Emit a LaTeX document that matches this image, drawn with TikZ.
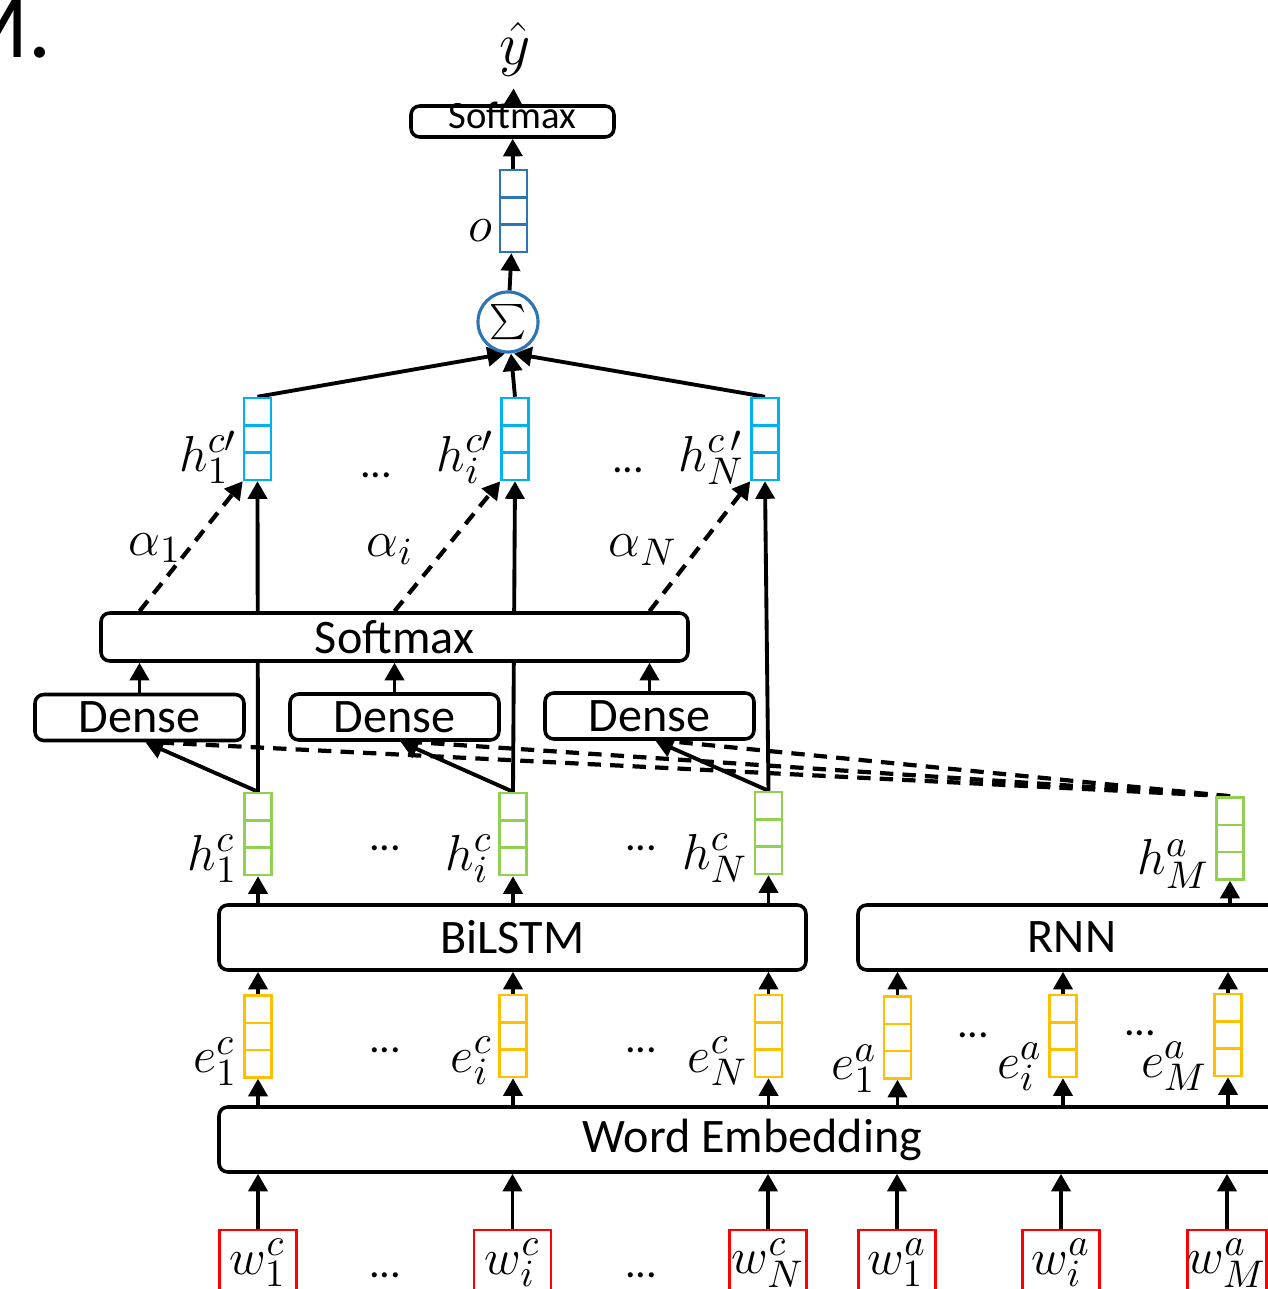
\documentclass[tikz,border=0pt]{standalone}
\usepackage[no-math]{fontspec}
\setmainfont{Carlito}
\usepackage{tikz}
\usetikzlibrary{arrows.meta, positioning, backgrounds, calc}
\DeclareMathSizes{14}{14}{11}{9}
\definecolor{sumblue}{RGB}{46,117,182}
\definecolor{attblue}{RGB}{0,176,240}
\definecolor{hidgreen}{RGB}{146,208,80}
\definecolor{embgold}{RGB}{255,192,0}
\definecolor{wordred}{RGB}{255,0,0}

\begin{document}
\begin{tikzpicture}[>={Triangle[width=5.4pt,length=5pt]},
  box/.style={draw, line width=1pt, rounded corners=2.5pt, fill=white,
              inner sep=0pt, font=\fontsize{13.7}{16}\selectfont},
  vec/.style={draw=#1, line width=0.7pt, fill=white, minimum width=0.27cm,
              minimum height=0.82cm, inner sep=0pt,
              path picture={\draw[#1, line width=0.7pt]
                ([yshift=-0.273cm]path picture bounding box.north west) --
                ([yshift=-0.273cm]path picture bounding box.north east)
                ([yshift=0.273cm]path picture bounding box.south west) --
                ([yshift=0.273cm]path picture bounding box.south east);}},
  word/.style={draw=wordred, line width=0.8pt, minimum width=0.77cm,
               minimum height=0.66cm, inner sep=0pt, font=\fontsize{14}{16}\selectfont},
  lbl/.style={anchor=base east, inner sep=1.5pt, font=\fontsize{14}{16}\selectfont},
  dots/.style={inner sep=0pt, font=\fontsize{12}{14}\selectfont},
  arr/.style={->, line width=1.1pt},
  att/.style={->, line width=1.2pt, dash pattern=on 3.8pt off 2.6pt},
  qry/.style={line width=1.2pt, dash pattern=on 3.8pt off 2.6pt},
]
\path[use as bounding box, clip] (0,0) rectangle (12.68,12.89);

% Caption remnant
\node[anchor=base west, inner sep=0pt, font=\fontsize{26}{30}\selectfont] (capt)
     at (-0.50,12.31) {M.};

% Output
\node[font=\fontsize{16}{18}\selectfont] (yhat) at (5.15,12.40) {$\hat{y}$};
\node[box, minimum width=2.03cm, minimum height=0.31cm, text height=0.19cm,
      text depth=0.04cm, font=\fontsize{11}{13}\selectfont] (smtop) at (5.125,11.675) {Softmax};
\node[vec=sumblue] (o) at (5.135,10.78) {};
\node[lbl] (olbl) at ([yshift=0.12cm]o.south west) {$o$};
\node[draw=sumblue, circle, line width=0.9pt, minimum size=0.6cm, inner sep=0pt,
      font=\fontsize{13}{15}\selectfont] (sum) at (5.08,9.67) {$\sum$};

% Attended context states
\node[vec=attblue] (hp1) at (2.575,8.50) {};
\node[vec=attblue] (hpi) at (5.15,8.50) {};
\node[vec=attblue] (hpN) at (7.65,8.50) {};
\node[lbl] (hp1lbl) at ([yshift=0.1cm]hp1.south west) {$h_1^{c\prime}$};
\node[lbl] (hpilbl) at ([yshift=0.1cm]hpi.south west) {$h_i^{c\prime}$};
\node[lbl] (hpNlbl) at ([yshift=0.1cm]hpN.south west) {$h_N^{c\,\prime}$};
\node[dots] (hpd1) at (3.76,8.14) {...};
\node[dots] (hpd2) at (6.28,8.19) {...};

% Attention weights
\node[font=\fontsize{14}{16}\selectfont] (al1) at (1.55,7.41) {$\alpha_1$};
\node[font=\fontsize{14}{16}\selectfont] (ali) at (3.90,7.39) {$\alpha_i$};
\node[font=\fontsize{14}{16}\selectfont] (alN) at (6.43,7.39) {$\alpha_N$};

% Scoring
\node[box, minimum width=5.87cm, minimum height=0.48cm] (smax) at (3.945,6.52) {Softmax};
\node[box, minimum width=2.09cm, minimum height=0.46cm] (dense1) at (1.395,5.715) {Dense};
\node[box, minimum width=2.09cm, minimum height=0.46cm] (dense2) at (3.945,5.72) {Dense};
\node[box, minimum width=2.09cm, minimum height=0.46cm] (dense3) at (6.495,5.73) {Dense};

% Hidden states
\node[vec=hidgreen] (hc1) at (2.58,4.55) {};
\node[vec=hidgreen] (hci) at (5.13,4.55) {};
\node[vec=hidgreen] (hcN) at (7.685,4.56) {};
\node[vec=hidgreen] (haM) at (12.30,4.505) {};
\node[lbl] (hc1lbl) at ([yshift=0.06cm]hc1.south west) {$h_1^c$};
\node[lbl] (hcilbl) at ([yshift=0.06cm]hci.south west) {$h_i^c$};
\node[lbl] (hcNlbl) at ([yshift=0.06cm]hcN.south west) {$h_N^c$};
\node[lbl] (haMlbl) at ([yshift=0.06cm]haM.south west) {$h_M^a$};
\node[dots] (hcd1) at (3.85,4.41) {...};
\node[dots] (hcd2) at (6.41,4.41) {...};

% Encoders
\node[box, minimum width=5.87cm, minimum height=0.65cm] (bilstm) at (5.125,3.515) {BiLSTM};
\node[box, minimum width=4.28cm, minimum height=0.65cm] (rnn) at (10.72,3.515) {RNN};

% Embeddings
\node[vec=embgold] (e1c) at (2.58,2.525) {};
\node[vec=embgold] (eic) at (5.13,2.53) {};
\node[vec=embgold] (eNc) at (7.685,2.53) {};
\node[vec=embgold] (e1a) at (8.975,2.515) {};
\node[vec=embgold] (eia) at (10.63,2.53) {};
\node[vec=embgold] (eMa) at (12.28,2.54) {};
\node[lbl] (e1clbl) at ([yshift=0.06cm]e1c.south west) {$e_1^c$};
\node[lbl] (eiclbl) at ([yshift=0.06cm]eic.south west) {$e_i^c$};
\node[lbl] (eNclbl) at ([yshift=0.06cm]eNc.south west) {$e_N^c$};
\node[lbl] (e1albl) at (e1a.south west) {$e_1^a$};
\node[lbl] (eialbl) at (eia.south west) {$e_i^a$};
\node[lbl] (eMalbl) at (eMa.south west) {$e_M^a$};
\node[dots] (ed1) at (3.85,2.39) {...};
\node[dots] (ed2) at (6.41,2.39) {...};
\node[dots] (ed3) at (9.73,2.54) {...};
\node[dots] (ed4) at (11.40,2.56) {...};

\node[box, minimum width=10.67cm, minimum height=0.65cm] (we) at (7.525,1.495) {Word Embedding};

% Input words
\node[word] (w1c) at (2.58,0.26) {$w_1^c$};
\node[word] (wic) at (5.125,0.26) {$w_i^c$};
\node[word] (wNc) at (7.68,0.26) {$w_N^c$};
\node[word] (w1a) at (8.97,0.26) {$w_1^a$};
\node[word] (wia) at (10.61,0.26) {$w_i^a$};
\node[word] (wMa) at (12.27,0.26) {$w_M^a$};
\node[dots] (wd1) at (3.85,0.14) {...};
\node[dots] (wd2) at (6.41,0.14) {...};

\begin{scope}[on background layer]
% Arrows - output
\draw[arr] (smtop) -- (yhat);
\draw[arr] (o) -- (smtop);
\draw[arr] (sum) -- (o);
\draw[arr] (hp1.north) -- ([xshift=-0.03cm]sum.south);
\draw[arr] (hpi.north) -- ([xshift=0.03cm]sum.south);
\draw[arr] (hpN.north) -- ([xshift=0.06cm]sum.south);

% Arrows - attention
\draw[att] (smax.north -| dense1) -- (hp1.south west);
\draw[att] (smax.north -| dense2) -- (hpi.south west);
\draw[att] (smax.north -| dense3) -- (hpN.south west);
\draw[arr] (hc1.north) -- (hp1.south);
\draw[arr] (hci.north) -- (hpi.south);
\draw[arr] (hcN.north) -- (hpN.south);
\draw[arr] (dense1) -- (smax.south -| dense1);
\draw[arr] (dense2) -- (smax.south -| dense2);
\draw[arr] (dense3) -- (smax.south -| dense3);
\draw[arr] (hc1.north) -- ([xshift=0.06cm]dense1.south);
\draw[arr] (hci.north) -- ([xshift=0.06cm]dense2.south);
\draw[arr] (hcN.north) -- ([xshift=0.06cm]dense3.south);
\draw[qry] (haM.north) -- ([xshift=0.15cm]dense1.south);
\draw[qry] (haM.north) -- ([xshift=0.15cm]dense2.south);
\draw[qry] (haM.north) -- ([xshift=0.15cm]dense3.south);

% Arrows - encoders
\draw[arr] (bilstm.north -| hc1) -- (hc1);
\draw[arr] (bilstm.north -| hci) -- (hci);
\draw[arr] (bilstm.north -| hcN) -- (hcN);
\draw[arr] (rnn.north -| haM) -- (haM);
\draw[arr] (e1c) -- (bilstm.south -| e1c);
\draw[arr] (eic) -- (bilstm.south -| eic);
\draw[arr] (eNc) -- (bilstm.south -| eNc);
\draw[arr] (e1a) -- (rnn.south -| e1a);
\draw[arr] (eia) -- (rnn.south -| eia);
\draw[arr] (eMa) -- (rnn.south -| eMa);

% Arrows - embedding
\draw[arr] (we.north -| e1c) -- (e1c);
\draw[arr] (we.north -| eic) -- (eic);
\draw[arr] (we.north -| eNc) -- (eNc);
\draw[arr] (we.north -| e1a) -- (e1a);
\draw[arr] (we.north -| eia) -- (eia);
\draw[arr] (we.north -| eMa) -- (eMa);
\draw[arr] (w1c) -- (we.south -| w1c);
\draw[arr] (wic) -- (we.south -| wic);
\draw[arr] (wNc) -- (we.south -| wNc);
\draw[arr] (w1a) -- (we.south -| w1a);
\draw[arr] (wia) -- (we.south -| wia);
\draw[arr] (wMa) -- (we.south -| wMa);
\end{scope}

\end{tikzpicture}
\end{document}
